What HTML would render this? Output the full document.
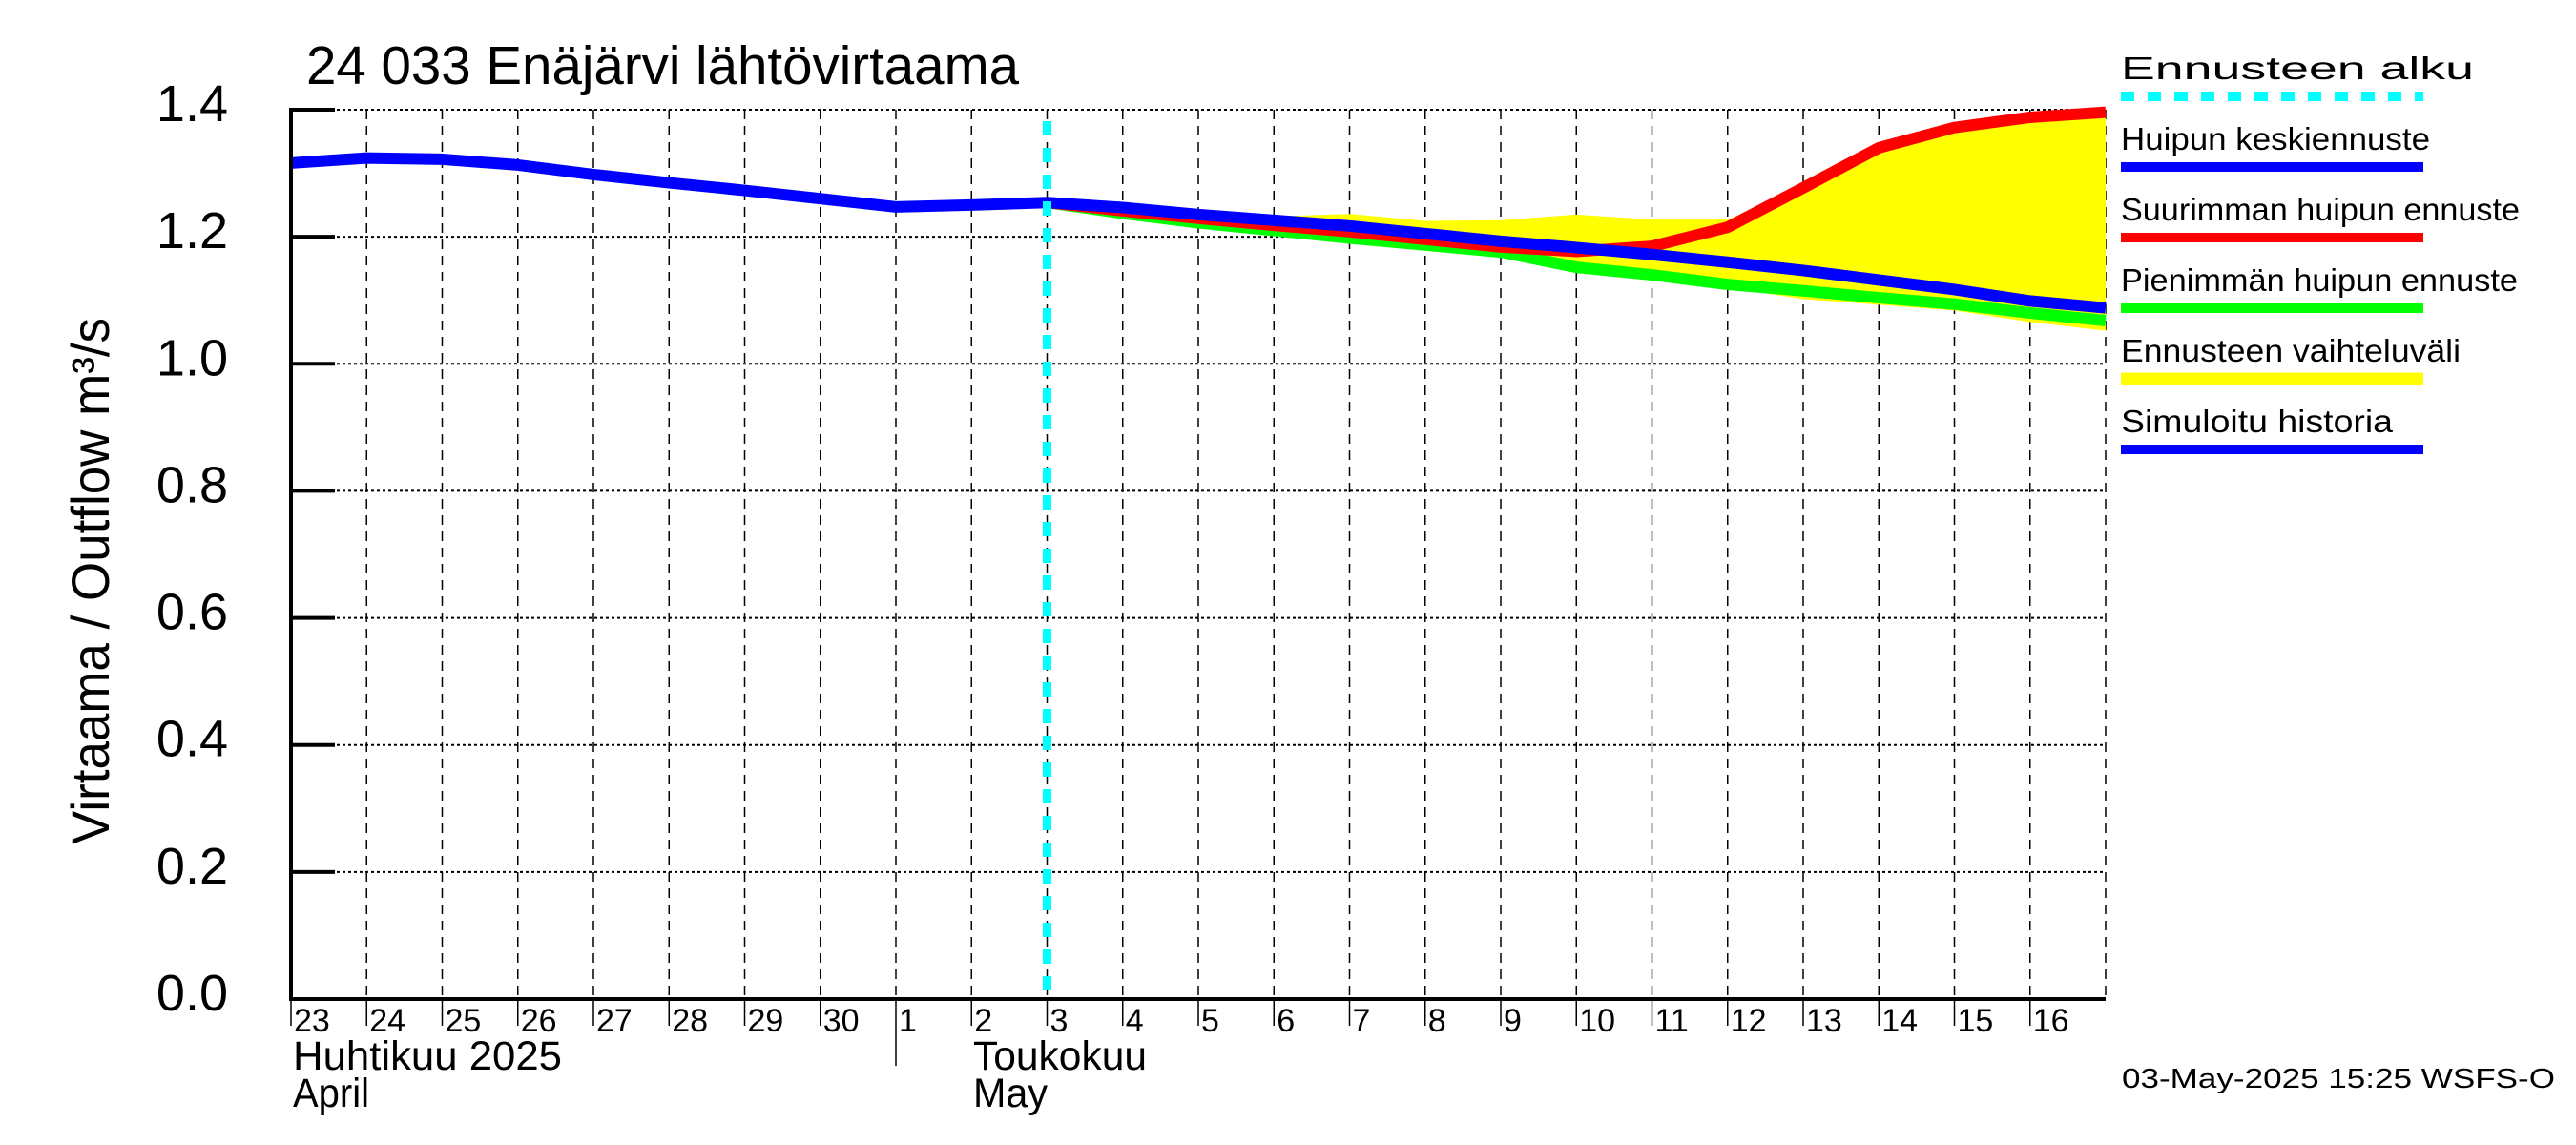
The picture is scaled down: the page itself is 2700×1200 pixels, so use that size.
<!DOCTYPE html>
<html><head><meta charset="utf-8"><style>html,body{margin:0;padding:0;background:#fff}svg{display:block}text{font-family:"Liberation Sans",sans-serif;fill:#000}</style></head>
<body>
<svg id="chart" width="2700" height="1200" viewBox="0 0 2700 1200" xmlns="http://www.w3.org/2000/svg">
<rect x="0" y="0" width="2700" height="1200" fill="#fff"/>
<g id="grid"></g>
<g id="band"></g>
<g id="lines"></g>
<g id="axes"></g>
<text x="321" y="88" font-size="57" textLength="747" lengthAdjust="spacingAndGlyphs">24 033 Enäjärvi lähtövirtaama</text>
<text transform="translate(114,609) rotate(-90)" text-anchor="middle" font-size="56" textLength="552" lengthAdjust="spacingAndGlyphs">Virtaama / Outflow    m³/s</text>
<text x="307" y="1121" font-size="43" textLength="282" lengthAdjust="spacingAndGlyphs">Huhtikuu  2025</text>
<text x="307" y="1160" font-size="43" textLength="80" lengthAdjust="spacingAndGlyphs">April</text>
<text x="1020" y="1121" font-size="43" textLength="182" lengthAdjust="spacingAndGlyphs">Toukokuu</text>
<text x="1020" y="1160" font-size="43" textLength="78" lengthAdjust="spacingAndGlyphs">May</text>
<text x="2224" y="1140" font-size="29" textLength="454" lengthAdjust="spacingAndGlyphs">03-May-2025 15:25 WSFS-O</text>
<g id="legend"></g>
</svg>
<script>
const dayLabels = ["23","24","25","26","27","28","29","30","1","2","3","4","5","6","7","8","9","10","11","12","13","14","15","16"];
const yTicks = [0.0,0.2,0.4,0.6,0.8,1.0,1.2,1.4];
const yTickLabels = ["0.0","0.2","0.4","0.6","0.8","1.0","1.2","1.4"];
const forecastStartDay = 10;
const historyDays = [0,1,2,3,4,5,6,7,8,9,10];
const historyValues = [1.316,1.324,1.322,1.313,1.298,1.285,1.273,1.260,1.247,1.250,1.254];
const forecastDays = [10,11,12,13,14,15,16,17,18,19,20,21,22,23,24];
const meanValues = [1.254,1.246,1.235,1.226,1.217,1.205,1.193,1.183,1.172,1.160,1.147,1.132,1.117,1.099,1.088];
const maxValues = [1.254,1.241,1.229,1.218,1.208,1.196,1.184,1.177,1.185,1.215,1.277,1.340,1.372,1.388,1.396];
const minValues = [1.254,1.237,1.222,1.210,1.198,1.187,1.176,1.152,1.140,1.125,1.115,1.104,1.094,1.080,1.068];
const bandUpper = [1.254,1.246,1.238,1.232,1.236,1.225,1.226,1.235,1.227,1.227,1.277,1.340,1.372,1.388,1.396];
const bandLower = [1.254,1.237,1.222,1.210,1.198,1.187,1.174,1.150,1.137,1.120,1.102,1.093,1.084,1.066,1.052];

const NS = "http://www.w3.org/2000/svg";
const X0 = 305, X1 = 2207, Y0 = 1047, YTOP = 115, NDAYS = 24;
function xs(d){ return X0 + (X1 - X0) * d / NDAYS; }
function ys(v){ return Y0 - (Y0 - YTOP) * v / 1.4; }
function mk(tag, attrs, parent){ const e = document.createElementNS(NS, tag); for (const k in attrs) e.setAttribute(k, attrs[k]); parent.appendChild(e); return e; }

const grid = document.getElementById('grid');
const axes = document.getElementById('axes');
// horizontal dotted grid
yTicks.forEach((v, i) => {
  if (i === 0) return;
  const l = mk('line', {x1: X0, x2: X1, y1: ys(v), y2: ys(v), stroke: '#000', 'stroke-width': 2, 'stroke-dasharray': '3,3'}, grid);
  
  
});
// vertical dashed grid
for (let d = 1; d <= NDAYS; d++) {
  const l = mk('line', {x1: xs(d), x2: xs(d), y1: YTOP, y2: Y0, stroke: '#000', 'stroke-width': 1.5, 'stroke-dasharray': '10,7'}, grid);
  
  
}
// band
const band = document.getElementById('band');
let pts = forecastDays.map((d, i) => xs(d) + ',' + ys(bandUpper[i]));
for (let i = forecastDays.length - 1; i >= 0; i--) pts.push(xs(forecastDays[i]) + ',' + ys(bandLower[i]));
const poly = mk('polygon', {points: pts.join(' '), fill: '#ffff00'}, band);



const lines = document.getElementById('lines');
function path(days, vals, color, name){
  const d = days.map((dd, i) => (i ? 'L' : 'M') + xs(dd) + ',' + ys(vals[i])).join(' ');
  const p = mk('path', {d: d, fill: 'none', stroke: color, 'stroke-width': 12, 'stroke-linejoin': 'round'}, lines);
  
  
}
path(forecastDays, minValues, '#00ff00', 'min-peak-forecast-line');
path(forecastDays, maxValues, '#ff0000', 'max-peak-forecast-line');
path(forecastDays, meanValues, '#0000ff', 'mean-peak-forecast-line');
path(historyDays, historyValues, '#0000ff', 'simulated-history-line');
const fl = mk('line', {x1: xs(forecastStartDay), x2: xs(forecastStartDay), y1: 127, y2: Y0, stroke: '#00ffff', 'stroke-width': 9, 'stroke-dasharray': '15,13'}, lines);



// axes
const ax = mk('path', {d: `M${X0},${YTOP-2} L${X0},${Y0} L${X1},${Y0}`, fill: 'none', stroke: '#000', 'stroke-width': 4}, axes);


yTicks.forEach((v, i) => {
  const t = mk('line', {x1: X0, x2: X0 + 46, y1: ys(v), y2: ys(v), stroke: '#000', 'stroke-width': 4}, axes);
  
  
  const tx = mk('text', {x: 239, y: ys(v) + 12, 'text-anchor': 'end', 'font-size': 54}, axes);
  tx.textContent = yTickLabels[i];
  
  
});
dayLabels.forEach((lab, i) => {
  const t = mk('line', {x1: xs(i), x2: xs(i), y1: Y0, y2: i === 8 ? 1117 : 1075, stroke: '#000', 'stroke-width': 1.5}, axes);
  
  
  const tx = mk('text', {x: xs(i) + 3, y: 1081, 'font-size': 34}, axes);
  tx.textContent = lab;
  
  
});

// legend
const legend = document.getElementById('legend');
const legendLabels = ["Ennusteen alku","Huipun keskiennuste","Suurimman huipun ennuste","Pienimmän huipun ennuste","Ennusteen vaihteluväli","Simuloitu historia"];
const legendColors = ['#00ffff','#0000ff','#ff0000','#00ff00','#ffff00','#0000ff'];
const legendWidths = [370, 324, 418, 416, 356, 285];
legendLabels.forEach((lab, i) => {
  const y = 83 + i * 74;
  const tx = mk('text', {x: 2223, y: y, 'font-size': 33, textLength: legendWidths[i], lengthAdjust: 'spacingAndGlyphs'}, legend);
  tx.textContent = lab;
  
  
  const attrs = {x1: 2223, x2: 2540, y1: y + 18, y2: y + 18, stroke: legendColors[i], 'stroke-width': i === 4 ? 13 : 10};
  if (i === 0) { attrs['stroke-dasharray'] = '14,14'; }
  const ln = mk('line', attrs, legend);
  
  
});
</script>
</body></html>
